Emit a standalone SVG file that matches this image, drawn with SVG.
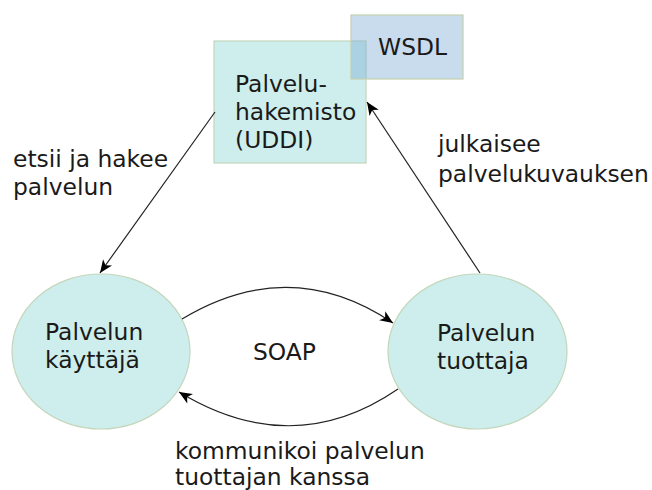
<svg xmlns="http://www.w3.org/2000/svg" width="652" height="490" viewBox="0 0 652 490">
  <style>
    text { font-family: "DejaVu Sans", "Liberation Sans", sans-serif; font-size: 23.4px; fill: #1a1a1a; }
    .node { fill: #cdeeec; stroke: #c4d6bc; stroke-width: 1.2; }
    .doc { fill: #78a7d4; fill-opacity: 0.4; stroke: #c4d0b0; stroke-width: 1.2; }
    .edge { fill: none; stroke: #222; stroke-width: 1.2; marker-end: url(#arrow); }
  </style>
  <defs>
    <marker id="arrow" markerUnits="userSpaceOnUse" markerWidth="16" markerHeight="14" viewBox="-14 -7 16 14" refX="0" refY="0" orient="auto">
      <path d="M0,0 L-13,-5.5 L-9.5,0 L-13,5.5 Z" fill="#000"/>
    </marker>
  </defs>

  <g id="uddi">
    <rect class="node" x="214" y="41" width="152" height="122"/>
    <text x="235" y="92">Palvelu-</text>
    <text x="235" y="120">hakemisto</text>
    <text x="235" y="148">(UDDI)</text>
  </g>

  <g id="wsdl">
    <rect class="doc" x="351" y="15" width="112" height="64"/>
    <text x="378" y="55">WSDL</text>
  </g>

  <g id="kayttaja">
    <ellipse class="node" cx="101" cy="351.5" rx="89" ry="77.5"/>
    <text x="45" y="340">Palvelun</text>
    <text x="45" y="368">käyttäjä</text>
  </g>

  <g id="tuottaja">
    <ellipse class="node" cx="477.5" cy="351.5" rx="89.5" ry="77.5"/>
    <text x="437" y="341">Palvelun</text>
    <text x="437" y="369">tuottaja</text>
  </g>

  <g id="connectors">
    <path class="edge" d="M215,112 L100,273"/>
    <path class="edge" d="M480,273 L367,102"/>
    <path class="edge" d="M182,319 Q290,254 393,323"/>
    <path class="edge" d="M398,389 Q293,461 179,392"/>
  </g>

  <g id="labels">
    <text x="13" y="167">etsii ja hakee</text>
    <text x="13" y="195">palvelun</text>
    <text x="438" y="152">julkaisee</text>
    <text x="438" y="182">palvelukuvauksen</text>
    <text x="253" y="360">SOAP</text>
    <text x="175" y="459">kommunikoi palvelun</text>
    <text x="175" y="485">tuottajan kanssa</text>
  </g>
</svg>
